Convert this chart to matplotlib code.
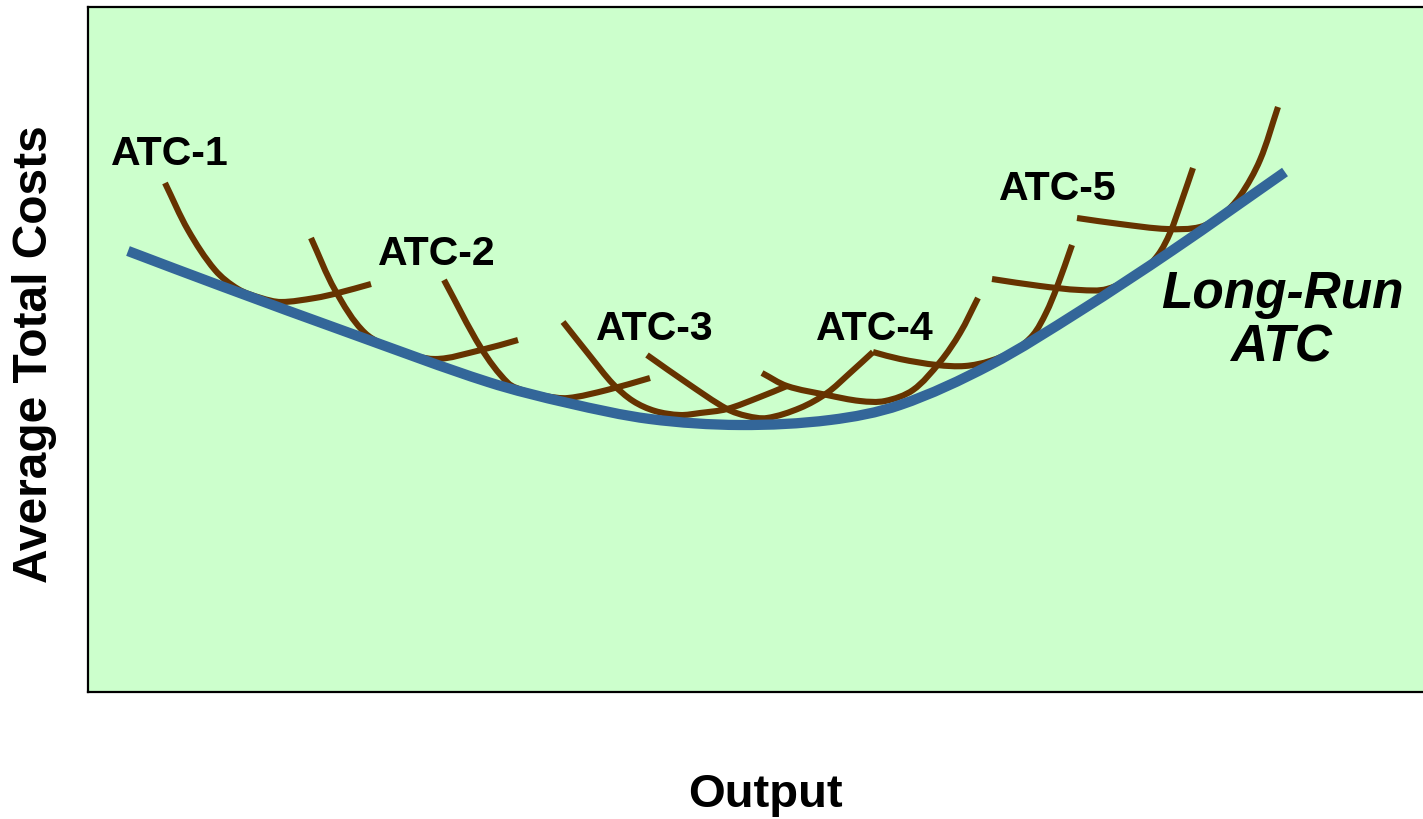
import numpy as np
import matplotlib
matplotlib.use("Agg")
import matplotlib.pyplot as plt
from matplotlib.path import Path
from matplotlib.patches import PathPatch

plt.rcParams['font.family'] = ['Liberation Sans', 'DejaVu Sans']

# ---- data (output on x, average total cost on y) ----
lratc_x = [0.40, 1.33, 2.67, 4.00, 4.80, 5.62, 6.52, 7.42, 8.12, 9.02, 9.92, 10.85, 11.97]
lratc_y = [4.41, 4.06, 3.57, 3.10, 2.89, 2.73, 2.67, 2.72, 2.87, 3.27, 3.81, 4.42, 5.20]

atc_a_x = [0.77, 1.00, 1.27, 1.50, 1.73, 1.93, 2.27, 2.50, 2.83]
atc_a_y = [5.09, 4.62, 4.22, 4.03, 3.94, 3.90, 3.94, 3.99, 4.08]

atc_b_x = [2.23, 2.47, 2.77, 3.10, 3.47, 3.93, 4.30]
atc_b_y = [4.54, 4.02, 3.59, 3.42, 3.33, 3.42, 3.52]

atc_c_x = [3.56, 3.93, 4.20, 4.37, 4.57, 4.80, 5.19, 5.62]
atc_c_y = [4.12, 3.44, 3.09, 3.01, 2.96, 2.94, 3.02, 3.14]

atc_d_x = [4.75, 5.02, 5.25, 5.45, 5.67, 5.92, 6.12, 6.39, 6.72, 6.99]
atc_d_y = [3.70, 3.36, 3.08, 2.91, 2.81, 2.77, 2.79, 2.83, 2.95, 3.06]

atc_e_x = [5.59, 5.99, 6.39, 6.59, 6.79, 7.12, 7.39, 7.62, 7.85]
atc_e_y = [3.37, 3.09, 2.83, 2.76, 2.74, 2.84, 2.99, 3.19, 3.40]

atc_f_x = [6.74, 6.99, 7.39, 7.72, 7.97, 8.25, 8.52, 8.72, 8.90]
atc_f_y = [3.19, 3.06, 2.97, 2.91, 2.91, 3.02, 3.30, 3.59, 3.94]

atc_g_x = [7.85, 8.12, 8.49, 8.77, 9.02, 9.27, 9.45, 9.58, 9.69, 9.84]
atc_g_y = [3.40, 3.33, 3.27, 3.26, 3.31, 3.42, 3.57, 3.79, 4.05, 4.47]

atc_h_x = [9.04, 9.52, 9.92, 10.19, 10.52, 10.70, 10.82, 10.94, 11.05]
atc_h_y = [4.13, 4.06, 4.02, 4.03, 4.19, 4.37, 4.59, 4.92, 5.24]

atc_i_x = [9.89, 10.32, 10.79, 11.12, 11.34, 11.52, 11.72, 11.90]
atc_i_y = [4.74, 4.68, 4.63, 4.65, 4.77, 4.96, 5.32, 5.85]

short_run = [(atc_a_x, atc_a_y), (atc_b_x, atc_b_y), (atc_c_x, atc_c_y),
             (atc_d_x, atc_d_y), (atc_e_x, atc_e_y), (atc_f_x, atc_f_y),
             (atc_g_x, atc_g_y), (atc_h_x, atc_h_y), (atc_i_x, atc_i_y)]

label_texts = ["ATC-1", "ATC-2", "ATC-3", "ATC-4", "ATC-5"]
label_x = [0.82, 3.49, 5.67, 7.87, 9.70]
label_y = [5.27, 4.27, 3.52, 3.52, 4.92]

lr_lines = ["Long-Run", "ATC"]
lr_x = [11.94, 11.93]
lr_y = [3.84, 3.30]


def smooth_path(xs, ys):
    """Smooth curve through the points (chord-length Hermite -> cubic Bezier)."""
    pts = np.column_stack([xs, ys]).astype(float)
    n = len(pts)
    d = np.hypot(*np.diff(pts, axis=0).T)
    t = np.concatenate([[0.0], np.cumsum(d)])
    tang = np.zeros_like(pts)
    tang[0] = (pts[1] - pts[0]) / (t[1] - t[0])
    tang[-1] = (pts[-1] - pts[-2]) / (t[-1] - t[-2])
    for i in range(1, n - 1):
        tang[i] = (pts[i + 1] - pts[i - 1]) / (t[i + 1] - t[i - 1])
    verts = [pts[0]]
    codes = [Path.MOVETO]
    for i in range(n - 1):
        h = t[i + 1] - t[i]
        verts += [pts[i] + tang[i] * h / 3.0, pts[i + 1] - tang[i + 1] * h / 3.0, pts[i + 1]]
        codes += [Path.CURVE4] * 3
    return Path(verts, codes)


fig = plt.figure(figsize=(14.23, 8.19), dpi=100)
ax = fig.add_axes([88 / 1423, 127 / 819, 1335 / 1423, 685 / 819])
ax.set_xlim(0, 13.35)
ax.set_ylim(0, 6.85)
ax.set_facecolor('#CCFFCC')
ax.set_xticks([])
ax.set_yticks([])
for s in ['left', 'top', 'bottom']:
    ax.spines[s].set_linewidth(1.6)
    ax.spines[s].set_color('black')
ax.spines['right'].set_visible(False)

brown = '#663300'
blue = '#336699'

for xs, ys in short_run:
    ax.add_patch(PathPatch(smooth_path(xs, ys), fill=False, edgecolor=brown,
                           linewidth=4.4, capstyle='butt', joinstyle='round', zorder=2))

ax.add_patch(PathPatch(smooth_path(lratc_x, lratc_y), fill=False, edgecolor=blue,
                       linewidth=7.4, capstyle='butt', joinstyle='round', zorder=3))

for t, x, y in zip(label_texts, label_x, label_y):
    ax.text(x, y, t, ha='center', va='baseline', fontsize=29.5, fontweight='bold',
            color='black', zorder=4)

for t, x, y in zip(lr_lines, lr_x, lr_y):
    ax.text(x, y, t, ha='center', va='baseline', fontsize=37, fontweight='bold',
            fontstyle='italic', color='black', zorder=4)

fig.text(35 / 1423, 1 - 354 / 819, "Average Total Costs", rotation=90,
         ha='center', va='center', fontsize=34.5, fontweight='bold')
fig.text(765 / 1423, 1 - 795 / 819, "Output", ha='center', va='center',
         fontsize=34, fontweight='bold')

fig.savefig('out.png', dpi=100)
